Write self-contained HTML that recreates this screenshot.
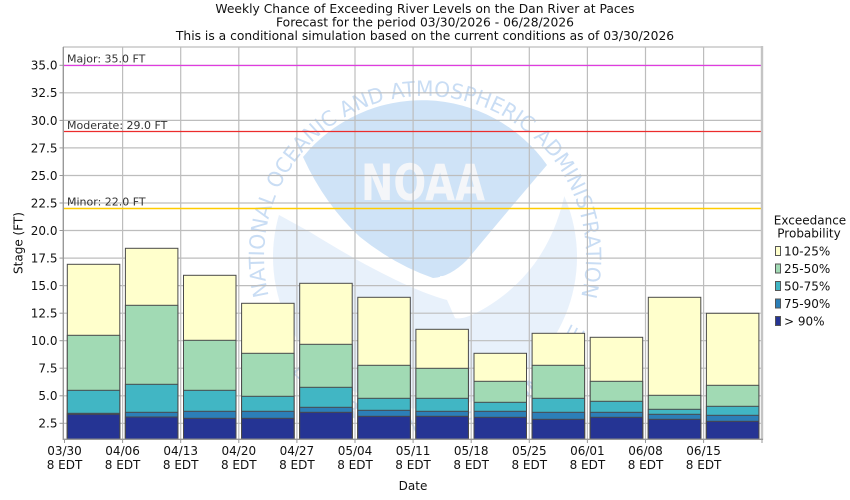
<!DOCTYPE html>
<html><head><meta charset="utf-8"><style>
html,body{margin:0;padding:0;background:#fff;}
svg{display:block;font-family:"DejaVu Sans","Liberation Sans",sans-serif;}
</style></head><body>
<svg width="850" height="500" viewBox="0 0 850 500" xmlns="http://www.w3.org/2000/svg">
<rect width="850" height="500" fill="#fff"/>
<!-- titles -->
<g font-size="12.3" fill="#111" text-anchor="middle">
<text x="425" y="13">Weekly Chance of Exceeding River Levels on the Dan River at Paces</text>
<text x="425" y="26.5">Forecast for the period 03/30/2026 - 06/28/2026</text>
<text x="425" y="40">This is a conditional simulation based on the current conditions as of 03/30/2026</text>
</g>
<!-- watermark -->
<defs>
<clipPath id="pc"><rect x="63" y="47" width="699" height="392"/></clipPath>
<path id="ringTop" d="M268.8,295.9 A161,161 0 1 1 580.5,298.7"/>
<path id="ringBot" d="M261.8,322.9 A176,176 0 0 0 588.2,322.9"/>
</defs>
<g clip-path="url(#pc)">
<circle cx="425" cy="257" r="152" fill="#e8f1fb"/>
<path d="M270,210 A155,155 0 0 1 566,188 C557,235 535,275 493,303 C475,315 462,320 455,318 L447,300 C410,290 360,263 310,232 Z" fill="#fff"/>
<path d="M303,157 A153,153 0 0 1 547,165 Q500,220 467,260 Q450,277 433,278 Q395,265 360,237 Q325,205 303,157 Z" fill="#cfe3f7"/>
<path d="M440,276 L495,279 L445,287 Z" fill="#fff"/>
<text x="361" y="200" font-size="50" font-weight="bold" fill="#f4f6f9" textLength="124" lengthAdjust="spacingAndGlyphs">NOAA</text>
<text font-size="21" fill="#c9ddf4"><textPath href="#ringTop" textLength="585" lengthAdjust="spacingAndGlyphs">NATIONAL OCEANIC AND ATMOSPHERIC ADMINISTRATION</textPath></text>
<text font-size="21" fill="#c9ddf4"><textPath href="#ringBot" textLength="410" lengthAdjust="spacingAndGlyphs">U.S. DEPARTMENT OF COMMERCE</textPath></text>
</g>
<!-- gridlines -->
<g stroke="#bdbdbd" stroke-width="1.2">
<line x1="63" x2="762" y1="65.3" y2="65.3"/>
<line x1="63" x2="762" y1="92.8" y2="92.8"/>
<line x1="63" x2="762" y1="120.4" y2="120.4"/>
<line x1="63" x2="762" y1="147.9" y2="147.9"/>
<line x1="63" x2="762" y1="175.5" y2="175.5"/>
<line x1="63" x2="762" y1="203.0" y2="203.0"/>
<line x1="63" x2="762" y1="230.5" y2="230.5"/>
<line x1="63" x2="762" y1="258.1" y2="258.1"/>
<line x1="63" x2="762" y1="285.6" y2="285.6"/>
<line x1="63" x2="762" y1="313.2" y2="313.2"/>
<line x1="63" x2="762" y1="340.7" y2="340.7"/>
<line x1="63" x2="762" y1="368.2" y2="368.2"/>
<line x1="63" x2="762" y1="395.8" y2="395.8"/>
<line x1="63" x2="762" y1="423.3" y2="423.3"/>
<line y1="47" y2="439" x1="122.6" x2="122.6"/>
<line y1="47" y2="439" x1="180.7" x2="180.7"/>
<line y1="47" y2="439" x1="238.8" x2="238.8"/>
<line y1="47" y2="439" x1="296.9" x2="296.9"/>
<line y1="47" y2="439" x1="355.0" x2="355.0"/>
<line y1="47" y2="439" x1="413.1" x2="413.1"/>
<line y1="47" y2="439" x1="471.2" x2="471.2"/>
<line y1="47" y2="439" x1="529.3" x2="529.3"/>
<line y1="47" y2="439" x1="587.4" x2="587.4"/>
<line y1="47" y2="439" x1="645.5" x2="645.5"/>
<line y1="47" y2="439" x1="703.6" x2="703.6"/>
</g>
<!-- threshold lines -->
<line x1="63" x2="762" y1="65.5" y2="65.5" stroke="#e03ce0" stroke-width="1.2"/>
<line x1="63" x2="762" y1="131.5" y2="131.5" stroke="#ec2c2c" stroke-width="1.2"/>
<line x1="63" x2="762" y1="208.5" y2="208.5" stroke="#ffcc00" stroke-width="1.4"/>
<g font-size="11" fill="#333">
<text x="67" y="62.5">Major: 35.0 FT</text>
<text x="67" y="129">Moderate: 29.0 FT</text>
<text x="67" y="205.5">Minor: 22.0 FT</text>
</g>
<!-- bars -->
<g stroke="#4a4a4a" stroke-width="1">
<g transform="translate(67.3,0)">
<rect x="0" width="52.5" y="264.3" height="174.7" fill="#ffffcc"/>
<rect x="0" width="52.5" y="335.3" height="103.7" fill="#a1dab4"/>
<rect x="0" width="52.5" y="390.3" height="48.7" fill="#41b6c4"/>
<rect x="0" width="52.5" y="413.3" height="25.7" fill="#2c7fb8"/>
<rect x="0" width="52.5" y="414.3" height="24.7" fill="#253494"/>
</g>
<g transform="translate(125.4,0)">
<rect x="0" width="52.5" y="248.3" height="190.7" fill="#ffffcc"/>
<rect x="0" width="52.5" y="305.3" height="133.7" fill="#a1dab4"/>
<rect x="0" width="52.5" y="384.3" height="54.7" fill="#41b6c4"/>
<rect x="0" width="52.5" y="412.3" height="26.7" fill="#2c7fb8"/>
<rect x="0" width="52.5" y="417" height="22" fill="#253494"/>
</g>
<g transform="translate(183.5,0)">
<rect x="0" width="52.5" y="275.3" height="163.7" fill="#ffffcc"/>
<rect x="0" width="52.5" y="340.3" height="98.7" fill="#a1dab4"/>
<rect x="0" width="52.5" y="390.3" height="48.7" fill="#41b6c4"/>
<rect x="0" width="52.5" y="411.3" height="27.7" fill="#2c7fb8"/>
<rect x="0" width="52.5" y="418.3" height="20.7" fill="#253494"/>
</g>
<g transform="translate(241.6,0)">
<rect x="0" width="52.5" y="303.3" height="135.7" fill="#ffffcc"/>
<rect x="0" width="52.5" y="353.3" height="85.7" fill="#a1dab4"/>
<rect x="0" width="52.5" y="396.3" height="42.7" fill="#41b6c4"/>
<rect x="0" width="52.5" y="411.3" height="27.7" fill="#2c7fb8"/>
<rect x="0" width="52.5" y="418.3" height="20.7" fill="#253494"/>
</g>
<g transform="translate(299.7,0)">
<rect x="0" width="52.5" y="283.3" height="155.7" fill="#ffffcc"/>
<rect x="0" width="52.5" y="344.3" height="94.7" fill="#a1dab4"/>
<rect x="0" width="52.5" y="387.3" height="51.7" fill="#41b6c4"/>
<rect x="0" width="52.5" y="407.3" height="31.7" fill="#2c7fb8"/>
<rect x="0" width="52.5" y="412.3" height="26.7" fill="#253494"/>
</g>
<g transform="translate(357.8,0)">
<rect x="0" width="52.5" y="297.3" height="141.7" fill="#ffffcc"/>
<rect x="0" width="52.5" y="365.3" height="73.7" fill="#a1dab4"/>
<rect x="0" width="52.5" y="398.3" height="40.7" fill="#41b6c4"/>
<rect x="0" width="52.5" y="410.3" height="28.7" fill="#2c7fb8"/>
<rect x="0" width="52.5" y="416.3" height="22.7" fill="#253494"/>
</g>
<g transform="translate(415.9,0)">
<rect x="0" width="52.5" y="329.3" height="109.7" fill="#ffffcc"/>
<rect x="0" width="52.5" y="368.3" height="70.7" fill="#a1dab4"/>
<rect x="0" width="52.5" y="398.3" height="40.7" fill="#41b6c4"/>
<rect x="0" width="52.5" y="411.3" height="27.7" fill="#2c7fb8"/>
<rect x="0" width="52.5" y="416.3" height="22.7" fill="#253494"/>
</g>
<g transform="translate(474.0,0)">
<rect x="0" width="52.5" y="353.3" height="85.7" fill="#ffffcc"/>
<rect x="0" width="52.5" y="381.3" height="57.7" fill="#a1dab4"/>
<rect x="0" width="52.5" y="402.3" height="36.7" fill="#41b6c4"/>
<rect x="0" width="52.5" y="411.3" height="27.7" fill="#2c7fb8"/>
<rect x="0" width="52.5" y="417.3" height="21.7" fill="#253494"/>
</g>
<g transform="translate(532.1,0)">
<rect x="0" width="52.5" y="333.3" height="105.7" fill="#ffffcc"/>
<rect x="0" width="52.5" y="365.3" height="73.7" fill="#a1dab4"/>
<rect x="0" width="52.5" y="398.3" height="40.7" fill="#41b6c4"/>
<rect x="0" width="52.5" y="412.3" height="26.7" fill="#2c7fb8"/>
<rect x="0" width="52.5" y="419.3" height="19.7" fill="#253494"/>
</g>
<g transform="translate(590.2,0)">
<rect x="0" width="52.5" y="337.3" height="101.7" fill="#ffffcc"/>
<rect x="0" width="52.5" y="381.3" height="57.7" fill="#a1dab4"/>
<rect x="0" width="52.5" y="401.3" height="37.7" fill="#41b6c4"/>
<rect x="0" width="52.5" y="412.3" height="26.7" fill="#2c7fb8"/>
<rect x="0" width="52.5" y="417.3" height="21.7" fill="#253494"/>
</g>
<g transform="translate(648.3,0)">
<rect x="0" width="52.5" y="297.3" height="141.7" fill="#ffffcc"/>
<rect x="0" width="52.5" y="395.3" height="43.7" fill="#a1dab4"/>
<rect x="0" width="52.5" y="409.3" height="29.7" fill="#41b6c4"/>
<rect x="0" width="52.5" y="414.3" height="24.7" fill="#2c7fb8"/>
<rect x="0" width="52.5" y="419.3" height="19.7" fill="#253494"/>
</g>
<g transform="translate(706.4,0)">
<rect x="0" width="52.5" y="313.3" height="125.7" fill="#ffffcc"/>
<rect x="0" width="52.5" y="385.3" height="53.7" fill="#a1dab4"/>
<rect x="0" width="52.5" y="406.3" height="32.7" fill="#41b6c4"/>
<rect x="0" width="52.5" y="415.3" height="23.7" fill="#2c7fb8"/>
<rect x="0" width="52.5" y="421.3" height="17.7" fill="#253494"/>
</g>
</g>
<!-- frame -->
<line x1="63" x2="762" y1="47" y2="47" stroke="#bdbdbd" stroke-width="1.2"/>
<line x1="762" x2="762" y1="46" y2="440" stroke="#c4c4c4" stroke-width="2.4"/>
<line x1="63.3" x2="63.3" y1="47" y2="440" stroke="#999" stroke-width="1.4"/>
<line x1="63" x2="763" y1="439.3" y2="439.3" stroke="#999" stroke-width="1.4"/>
<!-- ticks -->
<g stroke="#999" stroke-width="1">
<line x1="64.5" x2="64.5" y1="439" y2="443"/>
<line x1="122.6" x2="122.6" y1="439" y2="443"/>
<line x1="180.7" x2="180.7" y1="439" y2="443"/>
<line x1="238.8" x2="238.8" y1="439" y2="443"/>
<line x1="296.9" x2="296.9" y1="439" y2="443"/>
<line x1="355.0" x2="355.0" y1="439" y2="443"/>
<line x1="413.1" x2="413.1" y1="439" y2="443"/>
<line x1="471.2" x2="471.2" y1="439" y2="443"/>
<line x1="529.3" x2="529.3" y1="439" y2="443"/>
<line x1="587.4" x2="587.4" y1="439" y2="443"/>
<line x1="645.5" x2="645.5" y1="439" y2="443"/>
<line x1="703.6" x2="703.6" y1="439" y2="443"/>
<line x1="762" x2="762" y1="439" y2="443"/>
<line x1="59.5" x2="63" y1="65.3" y2="65.3"/>
<line x1="59.5" x2="63" y1="92.8" y2="92.8"/>
<line x1="59.5" x2="63" y1="120.4" y2="120.4"/>
<line x1="59.5" x2="63" y1="147.9" y2="147.9"/>
<line x1="59.5" x2="63" y1="175.5" y2="175.5"/>
<line x1="59.5" x2="63" y1="203.0" y2="203.0"/>
<line x1="59.5" x2="63" y1="230.5" y2="230.5"/>
<line x1="59.5" x2="63" y1="258.1" y2="258.1"/>
<line x1="59.5" x2="63" y1="285.6" y2="285.6"/>
<line x1="59.5" x2="63" y1="313.2" y2="313.2"/>
<line x1="59.5" x2="63" y1="340.7" y2="340.7"/>
<line x1="59.5" x2="63" y1="368.2" y2="368.2"/>
<line x1="59.5" x2="63" y1="395.8" y2="395.8"/>
<line x1="59.5" x2="63" y1="423.3" y2="423.3"/>
</g>
<!-- y tick labels -->
<g font-size="12" fill="#111" text-anchor="end">
<text x="57.5" y="69.7">35.0</text>
<text x="57.5" y="97.2">32.5</text>
<text x="57.5" y="124.8">30.0</text>
<text x="57.5" y="152.3">27.5</text>
<text x="57.5" y="179.9">25.0</text>
<text x="57.5" y="207.4">22.5</text>
<text x="57.5" y="234.9">20.0</text>
<text x="57.5" y="262.5">17.5</text>
<text x="57.5" y="290.0">15.0</text>
<text x="57.5" y="317.6">12.5</text>
<text x="57.5" y="345.1">10.0</text>
<text x="57.5" y="372.6">7.5</text>
<text x="57.5" y="400.2">5.0</text>
<text x="57.5" y="427.7">2.5</text>
</g>
<text transform="translate(22.5,243) rotate(-90)" font-size="12" fill="#111" text-anchor="middle">Stage (FT)</text>
<!-- x tick labels -->
<g font-size="12" fill="#111" text-anchor="middle">
<text x="64.5" y="455">03/30</text><text x="64.5" y="469">8 EDT</text>
<text x="122.6" y="455">04/06</text><text x="122.6" y="469">8 EDT</text>
<text x="180.7" y="455">04/13</text><text x="180.7" y="469">8 EDT</text>
<text x="238.8" y="455">04/20</text><text x="238.8" y="469">8 EDT</text>
<text x="296.9" y="455">04/27</text><text x="296.9" y="469">8 EDT</text>
<text x="355.0" y="455">05/04</text><text x="355.0" y="469">8 EDT</text>
<text x="413.1" y="455">05/11</text><text x="413.1" y="469">8 EDT</text>
<text x="471.2" y="455">05/18</text><text x="471.2" y="469">8 EDT</text>
<text x="529.3" y="455">05/25</text><text x="529.3" y="469">8 EDT</text>
<text x="587.4" y="455">06/01</text><text x="587.4" y="469">8 EDT</text>
<text x="645.5" y="455">06/08</text><text x="645.5" y="469">8 EDT</text>
<text x="703.6" y="455">06/15</text><text x="703.6" y="469">8 EDT</text>
<text x="413" y="490">Date</text>
</g>
<!-- legend -->
<g font-size="12" fill="#111">
<text x="810" y="224.5" text-anchor="middle">Exceedance</text>
<text x="809" y="237.5" text-anchor="middle">Probability</text>
<g stroke="#555" stroke-width="1">
<rect x="775.5" y="246.5" width="5" height="9" fill="#ffffcc"/>
<rect x="775.5" y="264" width="5" height="9" fill="#a1dab4"/>
<rect x="775.5" y="281.5" width="5" height="9" fill="#41b6c4"/>
<rect x="775.5" y="299" width="5" height="9" fill="#2c7fb8"/>
<rect x="775.5" y="316.5" width="5" height="9" fill="#253494"/>
</g>
<text x="784" y="255.5">10-25%</text>
<text x="784" y="273">25-50%</text>
<text x="784" y="290.5">50-75%</text>
<text x="784" y="308">75-90%</text>
<text x="784" y="325.5">&gt; 90%</text>
</g>
</svg>
</body></html>
